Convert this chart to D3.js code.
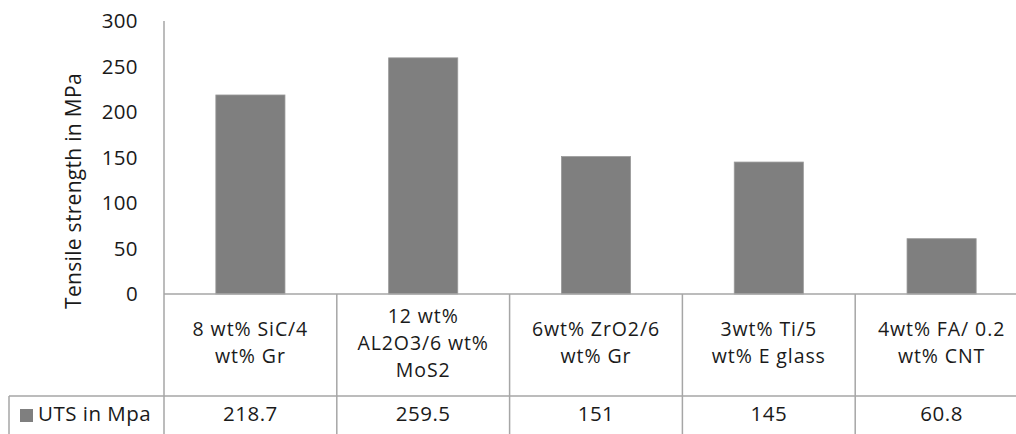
<!DOCTYPE html>
<html>
<head>
<meta charset="utf-8">
<script src="https://cdn.jsdelivr.net/npm/d3@7"></script>
<style>
  html, body { margin: 0; padding: 0; background: #fff; }
  svg { display: block; }
  text { font-family: "Open Sans", sans-serif; fill: #1a1a1a; }
</style>
</head>
<body>
<div id="chart"></div>
<script>
const categories = [
  ['8 wt% SiC/4', 'wt% Gr'],
  ['12 wt%', 'AL2O3/6 wt%', 'MoS2'],
  ['6wt% ZrO2/6', 'wt% Gr'],
  ['3wt% Ti/5', 'wt% E glass'],
  ['4wt% FA/ 0.2', 'wt% CNT']
];
const values = [218.7, 259.5, 151, 145, 60.8];
const valueLabels = ['218.7', '259.5', '151', '145', '60.8'];
const yTicks = [0, 50, 100, 150, 200, 250, 300];
const seriesName = 'UTS in Mpa';
const yTitle = 'Tensile strength in MPa';

const [w, h] = [1016, 434];
const plotLeft = 164, plotTop = 21, base = 294, rowLine = 396;
const lineColor = '#a6a6a6';
const barColor = '#7f7f7f';
const fs = '20.5px';

const svg = d3.select('#chart').append('svg')
  .attr('width', w).attr('height', h);

const keys = categories.map((c, i) => i);
const x = d3.scaleBand().domain(keys)
  .range([plotLeft, plotLeft + 5 * 172.8])
  .paddingInner(0.6).paddingOuter(0.3);
const y = d3.scaleLinear().domain([0, 300]).range([base, plotTop]);
const step = x.step();

// y axis
const yAxis = d3.axisLeft(y).tickValues(yTicks).tickSize(0).tickPadding(26);
const gy = svg.append('g').attr('transform', `translate(${plotLeft},0)`).call(yAxis);
gy.select('.domain').remove();
gy.selectAll('text')
  .style('font-family', '"Open Sans", sans-serif')
  .style('font-size', '20.5px').style('letter-spacing', '0.4px')
  .attr('fill', '#1a1a1a');

svg.append('text')
  .attr('transform', `translate(74, 191) rotate(-90)`)
  .attr('text-anchor', 'middle').attr('dy', '0.35em')
  .style('font-size', '21px').style('letter-spacing', '0.3px')
  .text(yTitle);

// bars
svg.append('g').selectAll('rect')
  .data(values)
  .join('rect')
  .attr('x', (d, i) => x(i))
  .attr('y', d => y(d))
  .attr('width', x.bandwidth())
  .attr('height', d => y(0) - y(d))
  .attr('fill', barColor)
  .attr('stroke', '#9a9a9a').attr('stroke-width', 0.8);

// table grid
const grid = svg.append('g').attr('stroke', lineColor).attr('stroke-width', 1.5).attr('fill', 'none');
grid.append('line').attr('x1', plotLeft).attr('x2', plotLeft).attr('y1', plotTop).attr('y2', h);
grid.append('line').attr('x1', plotLeft).attr('x2', w).attr('y1', y(0)).attr('y2', y(0));
grid.append('line').attr('x1', 9).attr('x2', w).attr('y1', rowLine).attr('y2', rowLine);
grid.append('line').attr('x1', 9).attr('x2', 9).attr('y1', rowLine).attr('y2', h);
grid.selectAll('.col')
  .data(keys.slice(1))
  .join('line')
  .attr('x1', d => plotLeft + d * step).attr('x2', d => plotLeft + d * step)
  .attr('y1', y(0)).attr('y2', h);

// category labels
const lineH = 27;
const catG = svg.append('g').selectAll('text')
  .data(categories)
  .join('text')
  .attr('text-anchor', 'middle')
  .style('font-size', '19.5px').style('letter-spacing', '0.9px')
  .attr('x', (d, i) => x(i) + x.bandwidth() / 2)
  .attr('y', d => 343 - (d.length - 1) * lineH / 2);
catG.selectAll('tspan')
  .data(d => d)
  .join('tspan')
  .attr('x', function () { return d3.select(this.parentNode).attr('x'); })
  .attr('dy', (d, i) => i === 0 ? '0.35em' : lineH)
  .text(d => d);

// value row
svg.append('g').selectAll('text')
  .data(valueLabels)
  .join('text')
  .attr('text-anchor', 'middle')
  .style('font-size', fs).style('letter-spacing', '0.5px')
  .attr('x', (d, i) => x(i) + x.bandwidth() / 2)
  .attr('y', 414).attr('dy', '0.35em')
  .text(d => d);

// legend key
svg.append('rect').attr('x', 20).attr('y', 409).attr('width', 13).attr('height', 13).attr('fill', barColor);
svg.append('text').attr('x', 38).attr('y', 414).attr('dy', '0.35em')
  .style('font-size', fs).style('letter-spacing', '0.5px').text(seriesName);
</script>
</body>
</html>
